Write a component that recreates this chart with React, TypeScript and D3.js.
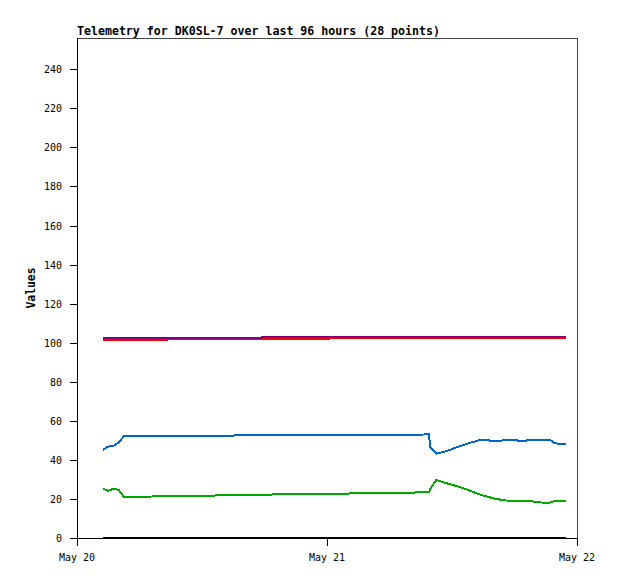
import React from "react";
import * as d3 from "d3";

// hours since May 20 00:00
const hours = [2.5, 3.0, 3.5, 4.0, 4.5, 8.2, 11.8, 15.5, 22.8, 26.4, 30.0, 33.8, 33.9, 34.5, 35.3, 36.5, 37.6, 38.7, 39.5, 40.2, 41.2, 42.0, 42.7, 43.5, 44.3, 45.4, 45.9, 46.9];
const blackVals = [0, 0, 0, 0, 0, 0, 0, 0, 0, 0, 0, 0, 0, 0, 0, 0, 0, 0, 0, 0, 0, 0, 0, 0, 0, 0, 0, 0];
const greenVals = [25.2, 24.2, 25.2, 24.6, 21.1, 21.3, 21.6, 22.0, 22.6, 22.8, 23.1, 23.4, 25.0, 29.7, 28.3, 26.5, 24.5, 22.2, 21.0, 20.0, 19.2, 19.1, 19.0, 19.0, 18.2, 18.1, 19.1, 19.1];
const blueVals = [45.2, 46.8, 47.2, 49.0, 52.0, 52.1, 52.3, 52.5, 52.7, 52.8, 52.9, 53.0, 46.5, 43.2, 44.2, 46.5, 48.5, 50.2, 50.0, 49.4, 50.3, 50.3, 49.4, 50.3, 50.4, 50.3, 48.4, 48.3];
const redVals = [101.6, 101.6, 101.6, 101.6, 101.6, 101.6, 101.8, 102.1, 102.1, 102.2, 102.5, 102.5, 102.5, 102.5, 102.5, 102.5, 102.5, 102.5, 102.5, 102.5, 102.5, 102.5, 102.5, 102.5, 102.5, 102.5, 102.5, 102.5];
const purpleVals = [102.5, 102.5, 102.5, 102.5, 102.5, 102.5, 102.5, 102.5, 103.0, 103.0, 103.0, 103.0, 103.0, 103.0, 103.0, 103.0, 103.0, 103.0, 103.0, 103.0, 103.0, 103.0, 103.0, 103.0, 103.0, 103.0, 103.0, 103.0];
const yTicks = [0, 20, 40, 60, 80, 100, 120, 140, 160, 180, 200, 220, 240];
const xTickLabels = ["May 20", "May 21", "May 22"];
const title = "Telemetry for DK0SL-7 over last 96 hours (28 points)";

const series = [
  { name: "black", values: blackVals, color: "#000000" },
  { name: "green", values: greenVals, color: "#00aa00" },
  { name: "blue", values: blueVals, color: "#0066cc" },
  { name: "red", values: redVals, color: "#ff0000" },
  { name: "purple", values: purpleVals, color: "#800080" },
];

const W = 618;
const H = 579;
const left = 77;
const right = 577;
const top = 38;
const bottom = 538;

export default function App() {
  const t0 = new Date(2024, 4, 20, 0, 0, 0);
  const t1 = new Date(2024, 4, 22, 0, 0, 0);
  const x = d3.scaleTime().domain([t0, t1]).range([left, right]);
  const y = d3.scaleLinear().domain([0, 256]).range([bottom, top]);
  const dates = hours.map((h) => new Date(t0.getTime() + h * 3600 * 1000));
  const xTicks = xTickLabels.map((_, i) => new Date(t0.getTime() + i * 24 * 3600 * 1000));
  const mono = "'DejaVu Sans Mono', 'Liberation Mono', monospace";

  return (
    <svg width={W} height={H} style={{ position: "absolute", left: 0, top: 0, background: "#fff" }}>
      <rect x={0} y={0} width={W} height={H} fill="#ffffff" />
      <text x={left} y={35} fontFamily={mono} fontWeight="bold" fontSize={11.6} fill="#000">
        {title}
      </text>
      {/* frame */}
      <line x1={left} y1={top + 0.5} x2={right} y2={top + 0.5} stroke="#444" strokeWidth={1} shapeRendering="crispEdges" />
      <line x1={right + 0.5} y1={top} x2={right + 0.5} y2={bottom} stroke="#444" strokeWidth={1} shapeRendering="crispEdges" />
      <line x1={left + 0.5} y1={top} x2={left + 0.5} y2={bottom + 0.5} stroke="#000" strokeWidth={1} shapeRendering="crispEdges" />
      <line x1={left} y1={bottom + 0.5} x2={right + 1} y2={bottom + 0.5} stroke="#000" strokeWidth={1} shapeRendering="crispEdges" />
      {/* y ticks */}
      {yTicks.map((v) => (
        <g key={v}>
          <line x1={left - 7} x2={left} y1={Math.round(y(v)) + 0.5} y2={Math.round(y(v)) + 0.5} stroke="#000" shapeRendering="crispEdges" />
          <text x={left - 15} y={Math.round(y(v)) + 4} textAnchor="end" fontFamily={mono} fontSize={10} fill="#000">
            {v}
          </text>
        </g>
      ))}
      {/* x ticks */}
      {xTicks.map((d, i) => (
        <g key={i}>
          <line x1={Math.round(x(d)) + 0.5} x2={Math.round(x(d)) + 0.5} y1={bottom} y2={bottom + 8} stroke="#000" shapeRendering="crispEdges" />
          <text x={x(d)} y={561} textAnchor="middle" fontFamily={mono} fontSize={10} fill="#000">
            {xTickLabels[i]}
          </text>
        </g>
      ))}
      <text
        transform={`translate(35, ${(top + bottom) / 2}) rotate(-90)`}
        textAnchor="middle"
        fontFamily={mono}
        fontWeight="bold"
        fontSize={11.4}
        fill="#000"
      >
        Values
      </text>
      {/* series */}
      {series.map((s) => {
        const line = d3
          .line<number>()
          .x((_, i) => x(dates[i]))
          .y((v) => y(v));
        return (
          <path key={s.name} d={line(s.values) || ""} fill="none" stroke={s.color} strokeWidth={2} shapeRendering="crispEdges" />
        );
      })}
    </svg>
  );
}
